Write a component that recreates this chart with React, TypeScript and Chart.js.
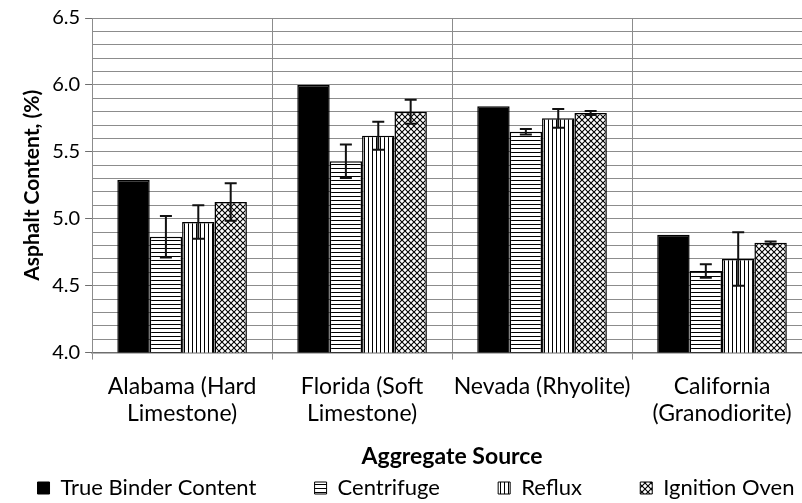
import React, { useEffect, useRef } from "react";
import { Chart, registerables } from "chart.js";

Chart.register(...registerables);

const categories: string[][] = [
  ["Alabama (Hard", "Limestone)"],
  ["Florida (Soft", "Limestone)"],
  ["Nevada (Rhyolite)"],
  ["California", "(Granodiorite)"],
];
const seriesNames = ["True Binder Content", "Centrifuge", "Reflux", "Ignition Oven"];
const trueBinder = [5.29, 6.0, 5.84, 4.88];
const centrifuge = [4.865, 5.43, 5.65, 4.61];
const centrifugeErr = [0.155, 0.125, 0.02, 0.05];
const reflux = [4.975, 5.62, 5.75, 4.7];
const refluxErr = [0.125, 0.105, 0.07, 0.2];
const ignition = [5.125, 5.8, 5.79, 4.82];
const ignitionErr = [0.14, 0.09, 0.015, 0.01];
const yMin = 4.0;
const yMax = 6.5;
const yStep = 0.1;
const yLabelStep = 0.5;

const FONT = "Lato, 'Liberation Sans', sans-serif";
const LEGEND_GAP = "          ";

function makePattern(kind: string): CanvasPattern | string {
  if (kind === "solid") return "#000000";
  const c = document.createElement("canvas");
  const size = kind === "cross" ? 6 : 4;
  c.width = size;
  c.height = size;
  const g = c.getContext("2d")!;
  g.fillStyle = "#ffffff";
  g.fillRect(0, 0, size, size);
  g.fillStyle = "#000000";
  g.strokeStyle = "#000000";
  if (kind === "h") {
    g.fillRect(0, 0, size, 1);
  } else if (kind === "v") {
    g.fillRect(0, 0, 1, size);
  } else {
    g.lineWidth = 1.1;
    g.beginPath();
    g.moveTo(-1, -1);
    g.lineTo(size + 1, size + 1);
    g.moveTo(-1, size + 1);
    g.lineTo(size + 1, -1);
    g.stroke();
  }
  return g.createPattern(c, "repeat")!;
}

const errorBarPlugin = {
  id: "errorBars",
  afterDatasetsDraw(chart: any) {
    const ctx = chart.ctx;
    const yScale = chart.scales.y;
    chart.data.datasets.forEach((ds: any, di: number) => {
      if (!ds.errors) return;
      const meta = chart.getDatasetMeta(di);
      meta.data.forEach((bar: any, i: number) => {
        const v = ds.data[i];
        const e = ds.errors[i];
        const top = yScale.getPixelForValue(v + e);
        const bot = yScale.getPixelForValue(v - e);
        const x = bar.x;
        const cap = 6;
        ctx.save();
        ctx.strokeStyle = "#111111";
        ctx.lineWidth = 2;
        ctx.beginPath();
        ctx.moveTo(x, top);
        ctx.lineTo(x, bot);
        ctx.moveTo(x - cap, top);
        ctx.lineTo(x + cap, top);
        ctx.moveTo(x - cap, bot);
        ctx.lineTo(x + cap, bot);
        ctx.stroke();
        ctx.restore();
      });
    });
  },
};

export default function App() {
  const ref = useRef<HTMLCanvasElement | null>(null);
  useEffect(() => {
    if (!ref.current) return;
    const mk = (label: string, data: number[], kind: string, errors?: number[]) => ({
      label,
      data,
      errors,
      backgroundColor: makePattern(kind),
      borderColor: "#000000",
      borderWidth: 1.5,
      borderSkipped: "start",
      barPercentage: 1.0,
      categoryPercentage: 0.72,
    });
    const chart = new Chart(ref.current, {
      type: "bar",
      data: {
        labels: categories,
        datasets: [
          mk(seriesNames[0], trueBinder, "solid"),
          mk(seriesNames[1], centrifuge, "h", centrifugeErr),
          mk(seriesNames[2], reflux, "v", refluxErr),
          mk(seriesNames[3], ignition, "cross", ignitionErr),
        ] as any,
      },
      options: {
        animation: false,
        responsive: false,
        devicePixelRatio: 1,
        layout: { padding: { top: 18, left: 20, right: 0, bottom: -6 } },
        plugins: {
          tooltip: { enabled: false },
          legend: {
            position: "bottom",
            labels: {
              boxWidth: 12,
              boxHeight: 12,
              padding: 2,
              color: "#000000",
              font: { family: FONT, size: 22 },
              generateLabels: (chart: any) => {
                const items = Chart.defaults.plugins.legend.labels.generateLabels(chart);
                return items.map((it: any, i: number) => ({
                  ...it,
                  text: i < items.length - 1 ? it.text + LEGEND_GAP : it.text,
                  lineWidth: 1,
                  strokeStyle: "#000000",
                }));
              },
            },
          },
        },
        scales: {
          x: {
            offset: true,
            grid: {
              offset: true,
              color: "#8c8c8c",
              lineWidth: 1,
              tickLength: 7,
              drawTicks: true,
            },
            border: { color: "#6e6e6e", width: 1.5 },
            ticks: {
              color: "#000000",
              font: { family: FONT, size: 23, lineHeight: 1.17 },
              maxRotation: 0,
              autoSkip: false,
              padding: 14,
            },
            title: {
              display: true,
              text: "Aggregate Source",
              color: "#000000",
              font: { family: FONT, size: 23, weight: "bold" },
              padding: { top: 1, bottom: 5 },
            },
          },
          y: {
            min: yMin,
            max: yMax,
            grid: {
              color: "#8c8c8c",
              lineWidth: 1,
              tickLength: 7,
              tickColor: (ctx: any) => {
                const v = ctx.tick ? ctx.tick.value : 0;
                return Math.abs(v / yLabelStep - Math.round(v / yLabelStep)) < 1e-6 ? "#6e6e6e" : "rgba(0,0,0,0)";
              },
            },
            border: { color: "#8c8c8c", width: 1 },
            ticks: {
              stepSize: yStep,
              autoSkip: false,
              color: "#000000",
              font: { family: FONT, size: 20 },
              padding: 5,
              callback: (v: any) => {
                const n = Number(v);
                return Math.abs(n / yLabelStep - Math.round(n / yLabelStep)) < 1e-6 ? n.toFixed(1) : "";
              },
            },
            title: {
              display: true,
              text: "Asphalt Content, (%)",
              color: "#000000",
              font: { family: FONT, size: 21, weight: "bold" },
              padding: { top: 0, bottom: 2 },
            },
          },
        },
      },
      plugins: [errorBarPlugin],
    });
    return () => chart.destroy();
  }, []);
  return (
    <div style={{ position: "fixed", left: 0, top: 0, width: 802, height: 503, overflow: "hidden", background: "#ffffff" }}>
      <canvas ref={ref} width={812} height={503} style={{ display: "block" }} />
    </div>
  );
}
